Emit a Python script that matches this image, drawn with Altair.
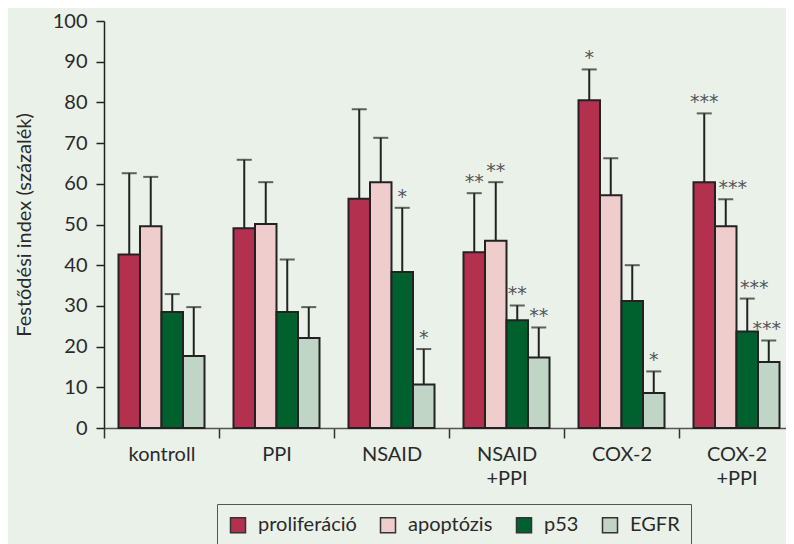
import altair as alt
import pandas as pd

categories = ["kontroll", "PPI", "NSAID", "NSAID+PPI", "COX-2", "COX-2+PPI"]
markers = ["proliferáció", "apoptózis", "p53", "EGFR"]

proliferacio = [42.6, 49.1, 56.3, 43.2, 80.5, 60.4]
proliferacio_sd = [20.0, 16.8, 22.0, 14.5, 7.6, 16.9]
proliferacio_sig = ["", "", "", "**", "*", "***"]

apoptozis = [49.6, 50.1, 60.4, 46.0, 57.2, 49.6]
apoptozis_sd = [12.1, 10.3, 10.9, 14.4, 9.1, 6.6]
apoptozis_sig = ["", "", "", "**", "", "***"]

p53 = [28.5, 28.5, 38.3, 26.5, 31.2, 23.7]
p53_sd = [4.4, 12.9, 15.8, 3.6, 8.8, 8.1]
p53_sig = ["", "", "*", "**", "", "***"]

egfr = [17.7, 22.1, 10.7, 17.3, 8.6, 16.2]
egfr_sd = [12.0, 7.6, 8.7, 7.4, 5.3, 5.3]
egfr_sig = ["", "", "*", "**", "*", "***"]

colors = ["#b3304f", "#efcdcd", "#00612f", "#c0d5c5"]

rows = []
for m, vals, sds, sigs in zip(
    markers,
    [proliferacio, apoptozis, p53, egfr],
    [proliferacio_sd, apoptozis_sd, p53_sd, egfr_sd],
    [proliferacio_sig, apoptozis_sig, p53_sig, egfr_sig],
):
    for c, v, s, t in zip(categories, vals, sds, sigs):
        rows.append({"cat": c, "marker": m, "value": v, "upper": round(v + s, 2), "star": t})
df = pd.DataFrame(rows)

FONT = "Lato"
TXT = "#2a2a2a"

x = alt.X(
    "cat:N",
    sort=categories,
    scale=alt.Scale(paddingInner=0, paddingOuter=0),
    axis=alt.Axis(
        title=None,
        tickBand="extent",
        labelAngle=0,
        labelExpr="split(replace(datum.label, '+', '|+'), '|')",
        labelLineHeight=24,
        labelFontSize=20,
        labelPadding=6,
        tickSize=10,
        domainColor="#555",
        tickColor="#333",
    ),
)
xo = alt.XOffset("marker:N", sort=markers, scale=alt.Scale(paddingOuter=0.674, paddingInner=0))

yaxis = alt.Axis(
    values=list(range(0, 101, 10)),
    title="Festődési index (százalék)",
    grid=False,
    tickSize=8,
    labelPadding=9,
    labelFontSize=20,
    titleFontSize=20,
    titleFontWeight="normal",
    titlePadding=18,
)
yscale = alt.Scale(domain=[0, 100], nice=False)

base = alt.Chart(df).encode(x=x, xOffset=xo)

rule = base.mark_rule(color="#222", strokeWidth=2).encode(
    y=alt.Y("value:Q", scale=yscale, axis=yaxis), y2="upper:Q"
)
bars = base.mark_bar(stroke="#222", strokeWidth=2).encode(
    y=alt.Y("value:Q", scale=yscale, axis=yaxis),
    color=alt.Color(
        "marker:N",
        sort=markers,
        scale=alt.Scale(domain=markers, range=colors),
        legend=alt.Legend(
            title=None,
            orient="none",
            legendX=113,
            legendY=483,
            direction="horizontal",
            columns=4,
            symbolType="square",
            symbolSize=225,
            symbolStrokeColor="#333",
            symbolStrokeWidth=1.5,
            labelFontSize=20,
            labelColor=TXT,
            labelFont=FONT,
            labelOffset=10,
            columnPadding=20,
            padding=11,
            strokeColor="#555",
        ),
    ),
)
cap = base.mark_tick(color="#222", thickness=2, size=15).encode(
    y=alt.Y("upper:Q", scale=yscale, axis=yaxis)
)

last = "datum.cat == 'COX-2+PPI'"
mid = last + " && (datum.marker == 'apoptózis' || datum.marker == 'p53')"
edge = last + " && datum.marker == 'EGFR'"
star_style = dict(font="DejaVu Sans", fontSize=19, color="#555555", baseline="alphabetic", dy=-5)
star_enc = dict(y=alt.Y("upper:Q", scale=yscale, axis=yaxis), text="star:N")

stars_main = (
    base.mark_text(**star_style)
    .encode(**star_enc)
    .transform_filter("!(" + mid + ") && !(" + edge + ")")
)
stars_mid = base.mark_text(dx=7, **star_style).encode(**star_enc).transform_filter(mid)
stars_edge = base.mark_text(dx=-2, **star_style).encode(**star_enc).transform_filter(edge)

chart = (
    alt.layer(rule, bars, cap, stars_main, stars_mid, stars_edge)
    .properties(
        width=690,
        height=407,
        autosize=alt.AutoSizeParams(type="none"),
        padding={"left": 96, "top": 13, "right": -8, "bottom": 116},
    )
    .configure(background="#eaf1e9", font=FONT)
    .configure_view(stroke=None)
    .configure_axis(
        labelColor=TXT,
        titleColor=TXT,
        domainColor="#222",
        tickColor="#222",
        domainWidth=1.5,
        tickWidth=1.5,
        labelFont=FONT,
        titleFont=FONT,
    )
)

chart.save("out.html", embed_options={"renderer": "svg", "actions": False})
